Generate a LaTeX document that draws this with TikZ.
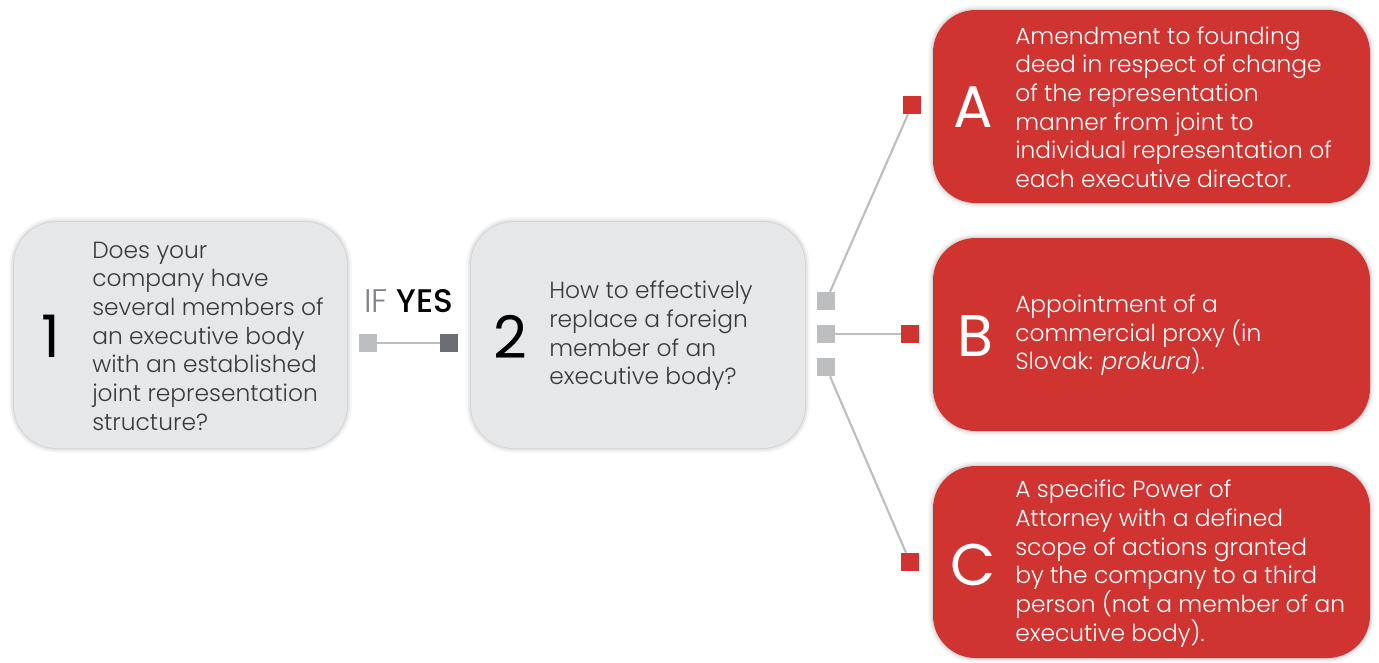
\documentclass[tikz,border=0pt]{standalone}
\usepackage{fontspec}
\setmainfont{Poppins}[UprightFont={* Light},ItalicFont={* Light Italic},BoldFont={* Medium}]
\newfontfamily\bigfont{Poppins}
\definecolor{boxgray}{HTML}{E6E7E8}
\definecolor{boxred}{HTML}{CF3430}
\definecolor{sqgray}{HTML}{BCBEC0}
\definecolor{sqdark}{HTML}{6D6E71}
\definecolor{txtdark}{HTML}{3A3A3A}
\definecolor{iftxt}{HTML}{808285}
\begin{document}
\begin{tikzpicture}[x=0.75pt,y=-0.75pt,
  softshadow/.style={preaction={draw=black,draw opacity=0.04,line width=7pt},
                     preaction={draw=black,draw opacity=0.06,line width=4pt},
                     preaction={draw=black,draw opacity=0.08,line width=1.5pt}},
  gbox/.style={rectangle,rounded corners=32pt,fill=boxgray,inner sep=0,softshadow},
  rbox/.style={rectangle,rounded corners=32pt,fill=boxred,inner sep=0,softshadow},
  sq/.style={rectangle,minimum size=18*0.75pt,inner sep=0},
  bignum/.style={font=\bigfont\fontsize{44}{44}\selectfont,inner sep=0},
  body/.style={font=\fontsize{17.5}{21.5}\selectfont,align=left,inner sep=0,anchor=west},
  link/.style={draw=sqgray,line width=1.6pt}]
\useasboundingbox (0,0) rectangle (1379,662);
% gray boxes
\node[gbox,minimum width=333*0.75pt,minimum height=226*0.75pt] (q1) at (180.5,335) {};
\node[gbox,minimum width=334*0.75pt,minimum height=226*0.75pt] (q2) at (638,335) {};
% red boxes
\node[rbox,minimum width=437*0.75pt,minimum height=193*0.75pt] (ba) at (1151.5,106.5) {};
\node[rbox,minimum width=437*0.75pt,minimum height=193*0.75pt] (bb) at (1151.5,334.5) {};
\node[rbox,minimum width=437*0.75pt,minimum height=192*0.75pt] (bc) at (1151.5,562) {};
% numbers and letters
\node[bignum,text=black] (n1) at (51,336) {1};
\node[bignum,text=black] (n2) at (510,337) {2};
\node[bignum,text=white] (la) at (973,107) {A};
\node[bignum,text=white] (lb) at (975,336) {B};
\node[bignum,text=white] (lc) at (973,565) {C};
% texts
\node[body,text=txtdark] (t1) at (92,336) {Does your\\company have\\several members of\\an executive body\\with an established\\joint representation\\structure?};
\node[body,text=txtdark] (t2) at (549,336) {How to effectively\\replace a foreign\\member of an\\executive body?};
\node[body,text=white] (ta) at (1015,107) {Amendment to founding\\deed in respect of change\\of the representation\\manner from joint to\\individual representation of\\each executive director.};
\node[body,text=white] (tb) at (1015,335.5) {Appointment of a\\commercial proxy (in\\Slovak: \textit{prokura}).};
\node[body,text=white] (tc) at (1015,563.5) {A specific Power of\\Attorney with a defined\\scope of actions granted\\by the company to a third\\person (not a member of an\\executive body).};
% IF YES
\node[font=\fontsize{24.5}{24.5}\selectfont,inner sep=0] (ify) at (409,301) {\textcolor{iftxt}{IF} \textbf{\textcolor{black}{YES}}};
% squares
\node[sq,fill=sqgray] (g1) at (368,343) {};
\node[sq,fill=sqdark] (d1) at (449,343) {};
\node[sq,fill=sqgray] (ga) at (826,301) {};
\node[sq,fill=sqgray] (gb) at (826,334) {};
\node[sq,fill=sqgray] (gc) at (826,367) {};
\node[sq,fill=boxred] (ra) at (912,105) {};
\node[sq,fill=boxred] (rb) at (910,334) {};
\node[sq,fill=boxred] (rc) at (910,562) {};
% connectors
\draw[link] (g1) -- (d1);
\draw[link] (ga) -- (ra);
\draw[link] (gb) -- (rb);
\draw[link] (gc) -- (rc);
\end{tikzpicture}
\end{document}
